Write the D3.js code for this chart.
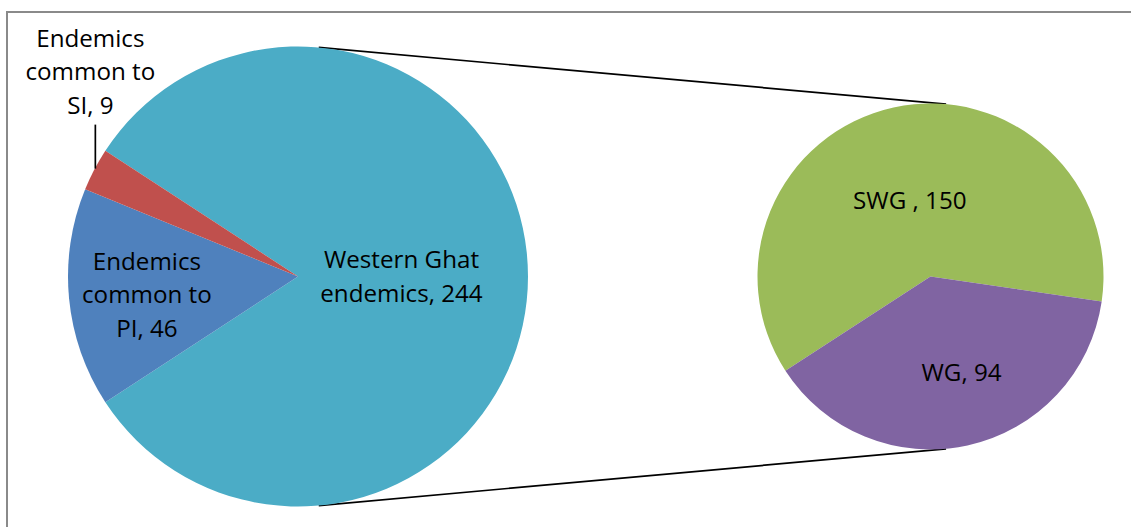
<!DOCTYPE html>
<html>
<head>
<meta charset="utf-8">
<script src="https://cdn.jsdelivr.net/npm/d3@7"></script>
<style>
  html, body { margin: 0; padding: 0; background: #fff; }
  svg { display: block; }
  text { font-family: "Open Sans", "Noto Sans", sans-serif; fill: #000; }
</style>
</head>
<body>
<svg id="chart" width="1131" height="527"></svg>
<script>
// Primary pie: endemic species split by where else they occur
const mainCategories = ["Western Ghat\nendemics", "Endemics\ncommon to\nPI", "Endemics\ncommon to\nSI"];
const mainValues = [244, 46, 9];
const mainColors = ["#4BACC6", "#4F81BD", "#C0504D"];

// Secondary pie: breakdown of the Western Ghat endemics
const subCategories = ["SWG ", "WG"];
const subValues = [150, 94];
const subColors = ["#9BBB59", "#8064A2"];

const W = 1131, H = 527;
const svg = d3.select("#chart");

// chart-area frame
svg.append("rect")
  .attr("x", 7).attr("y", 12)
  .attr("width", W + 20).attr("height", H + 20)
  .attr("fill", "none").attr("stroke", "#8a8a8a").attr("stroke-width", 2);

const main = { cx: 298, cy: 276.5, r: 230 };
const sub = { cx: 930.5, cy: 276.5, r: 173 };

// the aggregated slice faces the secondary pie (centred on 3 o'clock)
const mainTotal = d3.sum(mainValues);
const mainStart = Math.PI / 2 - (mainValues[0] / mainTotal) * Math.PI;
const mainPie = d3.pie().sort(null).value(d => d)
  .startAngle(mainStart).endAngle(mainStart + 2 * Math.PI);
const mainArcs = mainPie(mainValues);

const subStart = 237 * Math.PI / 180;
const subPie = d3.pie().sort(null).value(d => d)
  .startAngle(subStart).endAngle(subStart + 2 * Math.PI);
const subArcs = subPie(subValues);

// connector lines: outer tangents between the two circles
const dx = sub.cx - main.cx;
const phi = Math.asin((main.r - sub.r) / dx);
[-1, 1].forEach(s => {
  const x1 = main.cx + main.r * Math.sin(phi), y1 = main.cy + s * main.r * Math.cos(phi);
  const x2 = sub.cx + sub.r * Math.sin(phi), y2 = sub.cy + s * sub.r * Math.cos(phi);
  svg.append("line")
    .attr("x1", x1).attr("y1", y1).attr("x2", x2).attr("y2", y2)
    .attr("stroke", "#000").attr("stroke-width", 1.7);
});

const mainArc = d3.arc().innerRadius(0).outerRadius(main.r);
const subArc = d3.arc().innerRadius(0).outerRadius(sub.r);

const gMain = svg.append("g").attr("transform", `translate(${main.cx},${main.cy})`);
gMain.selectAll("path").data(mainArcs).join("path")
  .attr("d", mainArc).attr("fill", (d, i) => mainColors[i]);

const gSub = svg.append("g").attr("transform", `translate(${sub.cx},${sub.cy})`);
gSub.selectAll("path").data(subArcs).join("path")
  .attr("d", subArc).attr("fill", (d, i) => subColors[i]);

const fontSize = 24.2, lineH = 33.5;

function drawLabel(g, lines, x, yMid) {
  const t = g.append("text")
    .attr("text-anchor", "middle")
    .attr("font-size", fontSize);
  const n = lines.length;
  lines.forEach((ln, i) => {
    t.append("tspan")
      .attr("x", x)
      .attr("y", yMid + (i - (n - 1) / 2) * lineH)
      .attr("dy", "0.35em")
      .text(ln);
  });
}

function polar(angle, rho) {
  return [rho * Math.sin(angle), -rho * Math.cos(angle)];
}

// inside labels (radius fractions of the slice mid-angle)
const mainLabelRadius = [0.45, 0.66];
mainArcs.slice(0, 2).forEach((a, i) => {
  const mid = (a.startAngle + a.endAngle) / 2;
  const [x, y] = polar(mid, mainLabelRadius[i] * main.r);
  const lines = (mainCategories[i] + ", " + mainValues[i]).split("\n");
  drawLabel(gMain, lines, x, y + (i === 1 ? 4 : 0));
});

// small slice: label outside with a vertical leader
{
  const a = mainArcs[2];
  const mid = (a.startAngle + a.endAngle) / 2;
  const [px, py] = polar(mid, main.r);
  gMain.append("line")
    .attr("x1", px + 1).attr("y1", py - 1)
    .attr("x2", px + 1).attr("y2", py - 45)
    .attr("stroke", "#000").attr("stroke-width", 1.7);
  const lines = (mainCategories[2] + ", " + mainValues[2]).split("\n");
  drawLabel(gMain, lines, px - 4, py - 98);
}

const subLabelRadius = [0.45, 0.57];
const subLabelShift = [-4, 10];
subArcs.forEach((a, i) => {
  const mid = (a.startAngle + a.endAngle) / 2;
  const [x, y] = polar(mid, subLabelRadius[i] * sub.r);
  drawLabel(gSub, [subCategories[i] + ", " + subValues[i]], x + subLabelShift[i], y);
});
</script>
</body>
</html>
